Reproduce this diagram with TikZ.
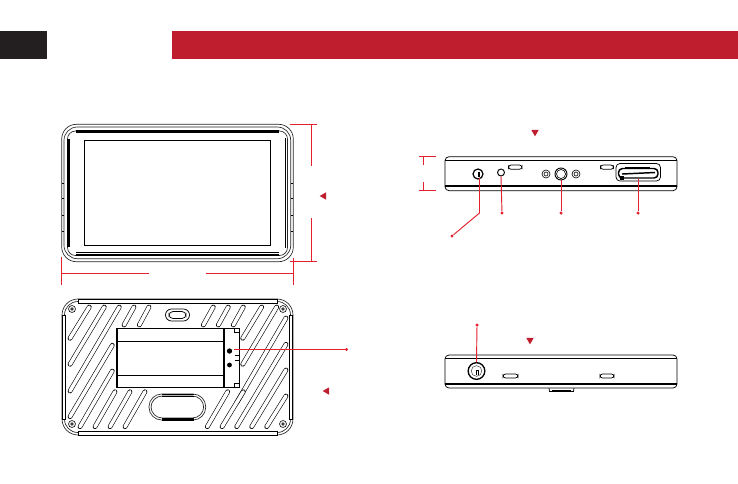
\documentclass[tikz,border=0pt]{standalone}
\usepackage{tikz}
\usetikzlibrary{calc, shapes.geometric}
\definecolor{bannerred}{HTML}{BE1E2D}
\definecolor{bannerblack}{HTML}{231F20}
\definecolor{leadred}{HTML}{E3202E}
\tikzstyle{part}=[draw=black, line width=0.55pt, fill=white]
\tikzstyle{fine}=[draw=black!85, line width=0.5pt]
\tikzstyle{heavy}=[draw=black, line width=1.6pt]
\tikzstyle{slot}=[draw=black, line width=0.45pt, double=white, double distance=2.6pt, line cap=round]
\tikzstyle{leader}=[draw=leadred, line width=0.7pt]
\tikzstyle{reddot}=[circle, fill=leadred, inner sep=0pt, minimum size=2.6pt]
\tikzstyle{marker}=[regular polygon, regular polygon sides=3, fill=bannerred, inner sep=0pt, minimum size=6.5pt]
\tikzstyle{screw}=[circle, draw=black, line width=0.45pt, fill=white, inner sep=0pt]
\begin{document}
\begin{tikzpicture}[x=0.75pt,y=-0.75pt]
      \useasboundingbox (0,0) rectangle (738,483);
      % banner
      \fill[bannerblack] (0,31) rectangle (47,59);
      \fill[bannerred] (172,31) rectangle (738,59);
      % front view
      \draw[fine, rounded corners=11pt] (61.7,124.3) rectangle (293.3,261.7);
      \draw[fine, rounded corners=10pt] (64,127) rectangle (290.7,258.7);
      \draw[fine, rounded corners=6pt] (67.5,131) rectangle (287.5,255.5);
      \draw[heavy] (76,131.5) -- (279,131.5);
      \draw[heavy] (76,255) -- (279,255);
      \draw[part] (76,252.4) -- (279,252.4);
      \draw[line width=2.2pt] (68.5,139) -- (68.5,247);
      \draw[part] (285,138) -- (285,248);
      \draw[part] (84.5,140.3) rectangle (270.3,245.5);
      \foreach \ybtn in {183,198.5,215,231.5} {
        \draw[part] (61.7,\ybtn) -- (64,\ybtn);
        \draw[part] (290.7,\ybtn) -- (293.3,\ybtn);
      }
      % front dimensions
      \coordinate (wl) at (61.7,273);
      \coordinate (wr) at (293.3,273);
      \coordinate (hu) at (311.5,124.3);
      \coordinate (hd) at (311.5,261.5);
      \draw[leader] (wl) -- (149,273) (206,273) -- (wr);
      \draw[leader] (61.7,257) -- (61.7,285) (293.3,258) -- (293.3,285);
      \draw[leader] (hu) -- (311.5,166) (311.5,218) -- (hd);
      \draw[leader] (290,124.3) -- (316.7,124.3) (290,261.5) -- (316.7,261.5);
      \node[marker, shape border rotate=90] (markfront) at (324,196) {};
      % back view
      \draw[fine, rounded corners=12pt] (62,299) rectangle (293,435);
      \draw[fine, rounded corners=10pt] (64.5,301.5) rectangle (290.5,432.5);
      \draw[part] (78,299.3) rectangle (277.5,303);
      \draw[part] (78,431) rectangle (277.5,435);
      \draw[part] (62.3,315.5) rectangle (65.5,419.5);
      \draw[part] (289.5,315.5) rectangle (292.7,419.5);
      \foreach \xa/\ya/\xb/\yb in {
        89.3/307/70/338.3, 104.3/307/70/364.3, 119.3/307/70/391,
        134/307/124/325, 149/307/139.3/325, 112.3/345.3/70/416.7,
        112.3/371/80/426.7, 115/391.7/95/426.7, 130/391.7/110/426.7,
        145/391.7/125/426.7, 213.3/307/203.3/325, 228.3/307/218.3/325,
        243.3/307/233.3/325, 261.7/307/242.7/338.3, 276.7/307/242.7/364.3,
        286/318/236.7/402.7, 286/344.3/236.7/426.7, 286/370/251.7/426.7,
        286/396/266.7/426.7, 227.7/391.7/207.3/426.7, 243.3/391.7/222/426.7} {
        \draw[slot] (\xa,\ya) -- (\xb,\yb);
      }
      \foreach \xs/\ys in {72/309, 283/309, 72/424, 283/424} {
        \node[screw, minimum size=5.2pt] at (\xs,\ys) {};
        \fill[black!75] (\xs,\ys) circle (1.4pt);
      }
      \draw[part, rounded corners=4.5pt] (165.5,309) rectangle (189.5,321);
      \draw[part, rounded corners=3pt] (169,311.5) rectangle (186,318.5);
      \draw[fine, fill=white, rounded corners=9.5pt] (149,394) rectangle (205.7,420);
      \draw[fine, rounded corners=8.5pt] (151,396) rectangle (203.7,418);
      \draw[part] (162,394.3) -- (194,394.3) (162,396.3) -- (194,396.3);
      \draw[heavy] (162,419.5) -- (194,419.5);
      \draw[part] (116.7,328.3) rectangle (239,387.3);
      \draw[part] (116.7,341.5) -- (224,341.5) (116.7,375) -- (224,375);
      \draw[heavy] (117.3,328.3) -- (117.3,387.3) (224,328.3) -- (224,387.3);
      \draw[part] (234.5,328.3) rectangle (239,332.5);
      \draw[part] (234.5,383) rectangle (239,387.3);
      \draw[part] (234.5,355) -- (239,355) (234.5,360) -- (239,360);
      \node[circle, fill=black, inner sep=0pt, minimum size=4pt] (lock) at (229.5,351) {};
      \node[circle, fill=black, inner sep=0pt, minimum size=3.6pt] (release) at (229.5,365) {};
      \node[reddot] (lockend) at (346.5,349.5) {};
      \draw[leader] (234,349.5) -- (lockend);
      \node[marker, shape border rotate=90] (markback) at (327,391) {};
      % top view
      \draw[part, rounded corners=3pt] (445,156.7) rectangle (677,190.7);
      \draw[part] (445,160.7) -- (677,160.7);
      \draw[heavy] (445,186) -- (677,186);
      \draw[leader] (423.3,156.7) -- (423.3,165) (423.3,182) -- (423.3,190.7);
      \draw[leader] (419,156.7) -- (436,156.7) (419,190.7) -- (436,190.7);
      \node[marker, shape border rotate=180] (marktop) at (535,132) {};
      \node[screw, minimum size=7.5pt, line width=0.9pt] (power) at (478,174) {};
      \fill[black] (477.5,171.5) rectangle (480,176.5);
      \node[screw, minimum size=5.2pt, line width=0.7pt] (led) at (501,172.5) {};
      \draw[part, rounded corners=2pt] (508.5,165) rectangle (522,169.3);
      \node[screw, minimum size=6pt] (screwa) at (546,174) {};
      \node[screw, minimum size=3pt] at (546,174) {};
      \node[screw, minimum size=9pt, line width=0.7pt] (jack) at (561,174) {};
      \node[screw, minimum size=6.8pt] at (561,174) {};
      \node[screw, minimum size=6pt] (screwb) at (576,174) {};
      \node[screw, minimum size=3pt] at (576,174) {};
      \draw[part, rounded corners=2pt] (600.5,165) rectangle (613.5,169.3);
      \draw[part, rounded corners=3pt] (616,163.5) rectangle (660.5,181);
      \draw[black, line width=1.1pt, rounded corners=3pt] (618.5,168.5) rectangle (658,178);
      \draw[black, line width=1.1pt] (622,174) -- (655,172.5);
      \draw[part] (625,167) -- (650,167);
      \fill[black] (620,176) rectangle (624,180);
      \node[reddot] (powerend) at (452,236) {};
      \node[reddot] (ledend) at (502,213) {};
      \node[reddot] (jackend) at (561,213) {};
      \node[reddot] (cardend) at (638,213) {};
      \coordinate (powerbend) at (479.5,213);
      \draw[leader] (479.5,178) -- (powerbend) -- (powerend);
      \draw[leader] (led.south) -- (ledend);
      \draw[leader] (jack.south) -- (jackend);
      \draw[leader] (638,178.5) -- (cardend);
      % bottom view
      \draw[part] (549,388) -- (549.5,391.5) -- (573.5,391.5) -- (574,388);
      \draw[heavy] (552,391.3) -- (571,391.3);
      \draw[part, rounded corners=3pt] (445,355) rectangle (677,388);
      \draw[part] (445,358.3) -- (677,358.3);
      \draw[heavy] (445,383.7) -- (677,383.7);
      \node[screw, minimum size=12.5pt, line width=1pt] (socket) at (476.5,371) {};
      \node[circle, draw=black!70, line width=0.4pt, inner sep=0pt, minimum size=8pt] at (476.5,371) {};
      \draw[black, line width=0.6pt] (476,375) -- (476,370.5) -- (478,370.5) -- (478,375);
      \draw[part, rounded corners=2pt] (503,374) rectangle (518,378);
      \draw[part, rounded corners=2pt] (600,374) rectangle (614,378);
      \node[reddot] (socketend) at (477,325) {};
      \draw[leader] (socket.north) -- (socketend);
      \node[marker, shape border rotate=180] (markbottom) at (530,340) {};
\end{tikzpicture}
\end{document}
